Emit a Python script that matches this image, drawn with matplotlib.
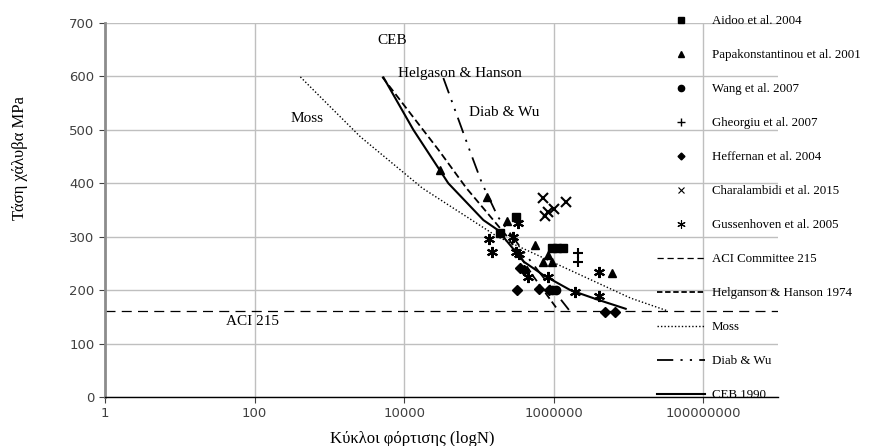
import matplotlib.pyplot as plt
from matplotlib.lines import Line2D

plt.rcParams['font.family'] = ['Liberation Serif', 'DejaVu Serif']

# experimental results (cycles, stress range MPa)
aidoo_N = [1.94e5, 3.1e5, 9.4e5, 1.12e6, 1.35e6]
aidoo_S = [307, 337, 279, 279, 279]
papa_N = [3.05e4, 1.3e5, 2.4e5, 5.7e5, 7.1e5, 8.3e5, 9.6e5, 6.1e6]
papa_S = [425, 374, 330, 285, 253, 266, 253, 232]
wang_N = [9.6e5, 1.07e6]
wang_S = [200, 200]
gheorgiu_N = [2.1e6, 2.1e6]
gheorgiu_S = [270, 253]
heff_N = [3.2e5, 3.6e5, 4.0e5, 6.3e5, 8.8e5, 4.9e6, 6.7e6]
heff_S = [200, 241, 238, 202, 200, 159, 159]
chara_N = [7.1e5, 1.48e6, 1.0e6, 8.3e5, 7.6e5]
chara_S = [373, 365, 352, 346, 339]
guss_N = [1.35e5, 1.5e5, 2.9e5, 3.3e5, 3.1e5, 3.4e5, 4.6e5, 8.3e5, 1.95e6, 4.0e6, 4.0e6]
guss_S = [296, 271, 300, 326, 271, 268, 225, 225, 197, 234, 189]

# design curves
aci_S = 161
helg_N = [5.1e3, 2.9e4, 6.8e4, 2.4e5, 5.4e5, 1.15e6]
helg_S = [599, 462, 391, 300, 225, 162]
moss_N = [4.1e2, 1.03e3, 2.6e3, 1.75e4, 1.77e5, 1.07e7, 3.2e7]
moss_S = [599, 543, 487, 391, 300, 185, 162]
diab_N = [3.35e4, 7.7e4, 1.1e5, 1.8e5, 5.0e5, 1.6e6]
diab_S = [597, 458, 400, 337, 253, 163]
ceb_N = [5.3e3, 1.33e4, 3.9e4, 1.15e5, 1.77e5, 4.0e5, 7.3e5, 1.67e6, 3.9e6, 9.2e6]
ceb_S = [598, 500, 400, 331, 313, 253, 228, 200, 182, 165]

star = (6, 2, 0)

fig = plt.figure(figsize=(8.7, 4.46), dpi=100)
ax = fig.add_axes([0.1207, 0.11, 0.7735, 0.8385])

ax.set_xscale('log')
ax.set_xlim(1, 1e9)
ax.set_ylim(0, 700)
ax.set_xticks([1, 1e2, 1e4, 1e6, 1e8])
ax.set_xticklabels(['1', '100', '10000', '1000000', '100000000'])
ax.xaxis.set_minor_locator(plt.NullLocator())
ax.set_yticks(range(0, 701, 100))
ax.grid(True, color='#bfbfbf', linewidth=1)
ax.set_axisbelow(True)
for side in ['top', 'right']:
    ax.spines[side].set_visible(False)
ax.spines['left'].set_color('#8c8c8c')
ax.spines['left'].set_linewidth(2)
ax.spines['bottom'].set_color('black')
ax.spines['bottom'].set_linewidth(1)
ax.tick_params(axis='both', labelsize=9.5, labelcolor='#404040', length=4,
               color='#404040')
for lab in ax.get_xticklabels() + ax.get_yticklabels():
    lab.set_family('DejaVu Sans')

ms = 6
ax.plot(aidoo_N, aidoo_S, marker='s', color='black', ms=ms, ls='none')
ax.plot(papa_N, papa_S, marker='^', color='black', ms=ms, ls='none')
ax.plot(wang_N, wang_S, marker='o', color='black', ms=ms, ls='none')
ax.plot(gheorgiu_N, gheorgiu_S, marker='+', color='black', ms=7, mew=1.5, ls='none')
ax.plot(heff_N, heff_S, marker='D', color='black', ms=5, ls='none')
ax.plot(chara_N, chara_S, marker='x', color='black', ms=7, mew=1.5, ls='none')
ax.plot(guss_N, guss_S, marker=star, color='black', ms=8, mew=1.5, ls='none')

ax.axhline(aci_S, color='black', lw=0.9, dashes=(8, 5))
ax.plot(helg_N, helg_S, color='black', lw=1.3, dashes=(4, 2))
ax.plot(moss_N, moss_S, color='black', lw=1.0, dashes=(1, 1.5))
ax.plot(diab_N, diab_S, color='black', lw=1.3, dashes=(9, 4, 1.2, 4, 1.2, 4))
ax.plot(ceb_N, ceb_S, color='black', lw=1.5)

tfs = 11
ax.text(6900, 668, 'CEB', fontsize=tfs, ha='center', va='center')
ax.text(5.6e4, 606, 'Helgason & Hanson', fontsize=tfs, ha='center', va='center')
ax.text(2.2e5, 532, 'Diab & Wu', fontsize=tfs, ha='center', va='center')
ax.text(505, 522, 'Moss', fontsize=tfs, ha='center', va='center')
ax.text(93, 142, 'ACI 215', fontsize=tfs, ha='center', va='center')

ax.set_xlabel('Κύκλοι φόρτισης (logN)', fontsize=12)
ax.set_ylabel('Τάση χάλυβα MPa', fontsize=12)
ax.xaxis.set_label_coords(0.456, -0.09)
ax.yaxis.set_label_coords(-0.115, 0.64)

handles = [
    Line2D([], [], marker='s', color='black', ls='none', ms=4.5),
    Line2D([], [], marker='^', color='black', ls='none', ms=4.5),
    Line2D([], [], marker='o', color='black', ls='none', ms=4.5),
    Line2D([], [], marker='+', color='black', ls='none', ms=6, mew=1),
    Line2D([], [], marker='D', color='black', ls='none', ms=3.5),
    Line2D([], [], marker='x', color='black', ls='none', ms=5, mew=0.8),
    Line2D([], [], marker=star, color='black', ls='none', ms=6, mew=0.8),
    Line2D([], [], color='black', lw=0.9, dashes=(5, 3)),
    Line2D([], [], color='black', lw=1.3, dashes=(3, 1.5)),
    Line2D([], [], color='black', lw=1.0, dashes=(1, 1.5)),
    Line2D([], [], color='black', lw=1.3, dashes=(9, 4, 1.2, 4, 1.2, 4)),
    Line2D([], [], color='black', lw=1.5),
]
labels = ['Aidoo et al. 2004', 'Papakonstantinou et al. 2001', 'Wang et al. 2007',
          'Gheorgiu et al. 2007', 'Heffernan et al. 2004', 'Charalambidi et al. 2015',
          'Gussenhoven et al. 2005', 'ACI Committee 215', 'Helganson & Hanson 1974',
          'Moss', 'Diab & Wu', 'CEB 1990']
fig.legend(handles, labels, loc='upper left', bbox_to_anchor=(0.755, 0.966),
           frameon=False, fontsize=9.3, handlelength=3.7, handletextpad=0.55,
           labelspacing=1.7, borderpad=0, borderaxespad=0, numpoints=1)

fig.savefig('out.png', dpi=100)
